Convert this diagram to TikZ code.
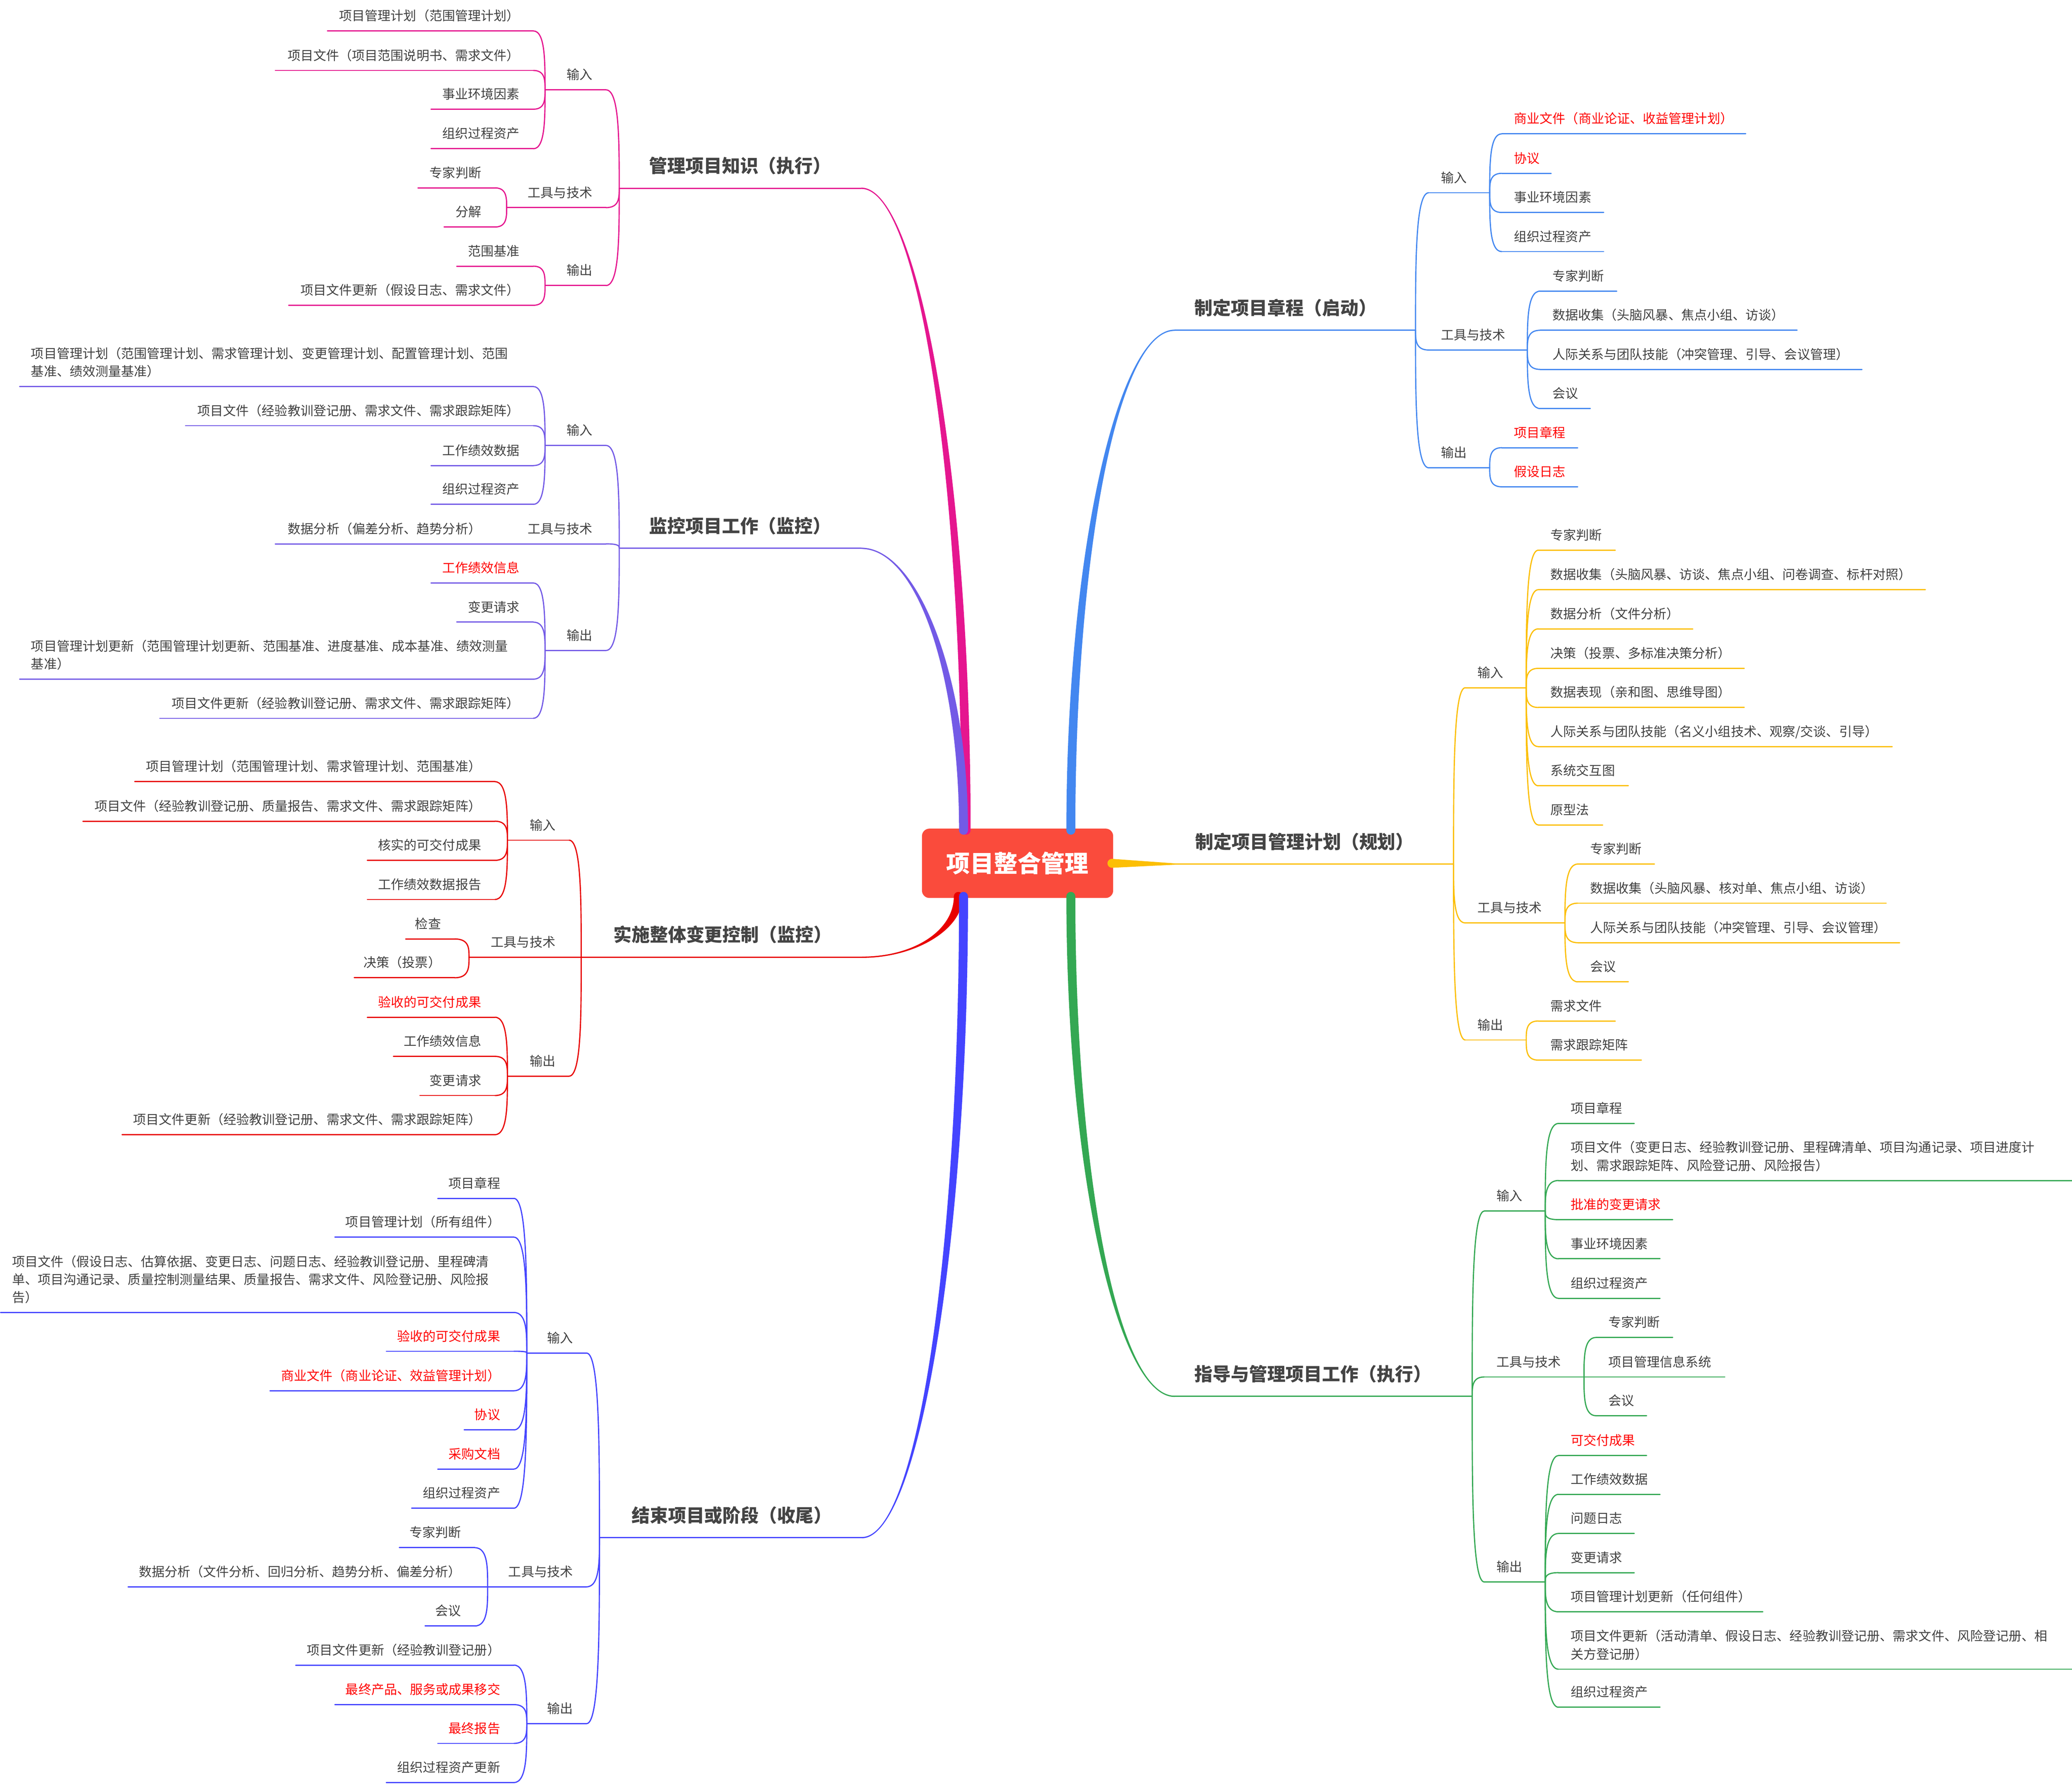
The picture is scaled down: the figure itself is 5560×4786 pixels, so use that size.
\documentclass[tikz,border=0pt]{standalone}
\usepackage{fontspec}
\setmainfont{Noto Sans CJK SC}
\usetikzlibrary{calc}
\newlength\mmunit \setlength\mmunit{0.1mm}
\definecolor{cA}{HTML}{E5168F}
\definecolor{cB}{HTML}{735AE6}
\definecolor{cC}{HTML}{E80000}
\definecolor{cD}{HTML}{4444FF}
\definecolor{cE}{HTML}{4387F0}
\definecolor{cF}{HTML}{FCBF05}
\definecolor{cG}{HTML}{34A853}
\definecolor{rootc}{HTML}{FA4B3C}
\definecolor{txt}{HTML}{404040}
\definecolor{txtb}{HTML}{444444}
\definecolor{hired}{HTML}{FF0000}
\newcommand\redtxt[1]{\textcolor{hired}{#1}}
\tikzset{
  leaf/.style={inner xsep=0pt, inner ysep=2.7mm, text depth=0pt, font=\fontsize{9.84pt}{13.66pt}\selectfont, text=txt},
  mainlbl/.style={inner xsep=0pt, inner ysep=4.1mm, text depth=0pt, font=\fontsize{13.9pt}{16pt}\selectfont\bfseries, text=txtb},
  mmline/.style={line width=0.32mm, line cap=round},
  rootbox/.style={fill=rootc, rounded corners=2mm, minimum width=51.3mm, minimum height=18.6mm, inner sep=0pt, text=white, font=\fontsize{18.1pt}{20pt}\selectfont\bfseries}
}
% left-side leaf: anchor south east
\newcommand\lfL[6]{\node[leaf,anchor=south east] (#1) at (#3,#4) {\makebox[#5\mmunit][r]{#6\hspace{36\mmunit}}};
  \draw[mmline,#2] (#1.south west) -- (#1.south east);}
\newcommand\lfLm[6]{\node[leaf,anchor=south east] (#1) at (#3,#4) {\makebox[#5\mmunit][l]{\hspace{30\mmunit}\begin{tabular}[b]{@{}l@{}}#6\end{tabular}}};
  \draw[mmline,#2] (#1.south west) -- (#1.south east);}
\newcommand\lfR[6]{\node[leaf,anchor=south west] (#1) at (#3,#4) {\makebox[#5\mmunit][l]{\hspace{32\mmunit}#6}};
  \draw[mmline,#2] (#1.south west) -- (#1.south east);}
\newcommand\lfRm[6]{\node[leaf,anchor=south west] (#1) at (#3,#4) {\makebox[#5\mmunit][l]{\hspace{32\mmunit}\begin{tabular}[b]{@{}l@{}}#6\end{tabular}}};
  \draw[mmline,#2] (#1.south west) -- (#1.south east);}
\newcommand\mnL[6]{\node[mainlbl,anchor=south east] (#1) at (#3,#4) {\makebox[#5\mmunit][r]{#6\hspace{80\mmunit}}};
  \draw[mmline,#2] (#1.south west) -- (#1.south east);}
\newcommand\mnR[6]{\node[mainlbl,anchor=south west] (#1) at (#3,#4) {\makebox[#5\mmunit][l]{\hspace{53\mmunit}#6}};
  \draw[mmline,#2] (#1.south west) -- (#1.south east);}
% bracket link from child end to parent junction
\newcommand\lk[3]{\draw[mmline,#1] let \p1=(#2), \p2=(#3) in (\p1) .. controls (\x2,\y1) and (\x2,{0.5*(\y1+\y2)}) .. (\p2);}
% tapered main branch: color, centre point, branch point, s, t
\newcommand\tp[5]{%
  \fill[#1] let \p1=(#2), \p2=(#3) in
   ({\x1+(#4)*1.2mm},\y1) .. controls ({\x1+(#4)*1.2mm},{\y1+0.55*(\y2-\y1)}) and ({\x2+0.55*(\x1-\x2)},{\y2+(#5)*0.17mm}) .. (\x2,{\y2+(#5)*0.17mm})
   -- (\x2,{\y2-(#5)*0.17mm}) .. controls ({\x2+0.55*(\x1-\x2)},{\y2-(#5)*0.17mm}) and ({\x1-(#4)*1.2mm},{\y1+0.55*(\y2-\y1)}) .. ({\x1-(#4)*1.2mm},\y1) -- cycle;
  \fill[#1] (#2) circle[radius=1.2mm];}
\begin{document}
\begin{tikzpicture}[x=0.1mm,y=-0.1mm]
\useasboundingbox (0,0) rectangle (5560,4786);
\node[rootbox] (root) at (2730.5,2316) {项目整合管理};
\coordinate (aA) at ($(root.north)+(-138,5)$);
\coordinate (aB) at ($(root.north)+(-145,5)$);
\coordinate (aE) at ($(root.north)+(143,5)$);
\coordinate (aC) at ($(root.south)+(-159,-5)$);
\coordinate (aD) at ($(root.south)+(-145,-5)$);
\coordinate (aG) at ($(root.south)+(143,-5)$);
\coordinate (aF) at ($(root.east)+(-4,0)$);
% main branch labels
\mnL{mA}{cA}{2311}{505}{648}{管理项目知识（执行）}
\mnL{mB}{cB}{2311}{1471}{648}{监控项目工作（监控）}
\mnL{mC}{cC}{2313}{2568}{752}{实施整体变更控制（监控）}
\mnL{mD}{cD}{2313}{4125}{703}{结束项目或阶段（收尾）}
\mnR{mE}{cE}{3152}{886}{645}{制定项目章程（启动）}
\mnR{mF}{cF}{3154}{2318}{745}{制定项目管理计划（规划）}
\mnR{mG}{cG}{3152}{3746}{797}{指导与管理项目工作（执行）}
% tapered branches
\tp{cA}{aA}{mA.south east}{1}{1}
\tp{cB}{aB}{mB.south east}{1}{1}
\tp{cE}{aE}{mE.south west}{-1}{1}
\tp{cC}{aC}{mC.south east}{1}{-1}
\tp{cD}{aD}{mD.south east}{1}{-1}
\tp{cG}{aG}{mG.south west}{-1}{-1}
\fill[cF] let \p1=(aF), \p2=(mF.south west) in (\x1,{\y1+1.2mm}) -- (\x2,{\y2+0.17mm}) -- (\x2,{\y2-0.17mm}) -- (\x1,{\y1-1.2mm}) -- cycle;
\fill[cF] (aF) circle[radius=1.2mm];
% ---------- A ----------
\lfL{inA}{cA}{1626}{241}{162}{输入}
\lfL{A1}{cA}{1431}{83}{551}{项目管理计划（范围管理计划）}
\lfL{A2}{cA}{1431}{189}{691}{项目文件（项目范围说明书、需求文件）}
\lfL{A3}{cA}{1431}{293}{273}{事业环境因素}
\lfL{A4}{cA}{1431}{399}{273}{组织过程资产}
\lfL{tlA}{cA}{1626}{557}{265}{工具与技术}
\lfL{A5}{cA}{1328}{504}{205}{专家判断}
\lfL{A6}{cA}{1328}{609}{135}{分解}
\lfL{outA}{cA}{1626}{766}{162}{输出}
\lfL{A7}{cA}{1431}{714}{204}{范围基准}
\lfL{A8}{cA}{1431}{819}{655}{项目文件更新（假设日志、需求文件）}
\foreach \c in {A1,A2,A3,A4} {\lk{cA}{\c.south east}{inA.south west}}
\foreach \c in {A5,A6} {\lk{cA}{\c.south east}{tlA.south west}}
\foreach \c in {A7,A8} {\lk{cA}{\c.south east}{outA.south west}}
\foreach \c in {inA,tlA,outA} {\lk{cA}{\c.south east}{mA.south west}}
% ---------- B ----------
\lfL{inB}{cB}{1626}{1195}{162}{输入}
\lfLm{B1}{cB}{1431}{1037}{1377}{项目管理计划（范围管理计划、需求管理计划、变更管理计划、配置管理计划、范围\\基准、绩效测量基准）}
\lfL{B2}{cB}{1431}{1142}{932}{项目文件（经验教训登记册、需求文件、需求跟踪矩阵）}
\lfL{B3}{cB}{1431}{1249}{273}{工作绩效数据}
\lfL{B4}{cB}{1431}{1353}{273}{组织过程资产}
\lfL{tlB}{cB}{1626}{1459}{265}{工具与技术}
\lfL{B5}{cB}{1328}{1459}{588}{数据分析（偏差分析、趋势分析）}
\lfL{outB}{cB}{1626}{1745}{162}{输出}
\lfL{B6}{cB}{1431}{1564}{273}{\redtxt{工作绩效信息}}
\lfL{B7}{cB}{1431}{1669}{204}{变更请求}
\lfLm{B8}{cB}{1431}{1822}{1377}{项目管理计划更新（范围管理计划更新、范围基准、进度基准、成本基准、绩效测量\\基准）}
\lfL{B9}{cB}{1431}{1927}{1001}{项目文件更新（经验教训登记册、需求文件、需求跟踪矩阵）}
\foreach \c in {B1,B2,B3,B4} {\lk{cB}{\c.south east}{inB.south west}}
\lk{cB}{B5.south east}{tlB.south west}
\foreach \c in {B6,B7,B8,B9} {\lk{cB}{\c.south east}{outB.south west}}
\foreach \c in {inB,tlB,outB} {\lk{cB}{\c.south east}{mB.south west}}
% ---------- C ----------
\lfL{inC}{cC}{1527}{2254}{164}{输入}
\lfL{C1}{cC}{1328}{2097}{965}{项目管理计划（范围管理计划、需求管理计划、范围基准）}
\lfL{C2}{cC}{1328}{2203}{1104}{项目文件（经验教训登记册、质量报告、需求文件、需求跟踪矩阵）}
\lfL{C3}{cC}{1328}{2308}{341}{核实的可交付成果}
\lfL{C4}{cC}{1328}{2413}{341}{工作绩效数据报告}
\lfL{tlC}{cC}{1527}{2568}{267}{工具与技术}
\lfL{C5}{cC}{1220}{2519}{130}{检查}
\lfL{C6}{cC}{1220}{2623}{268}{决策（投票）}
\lfL{outC}{cC}{1527}{2887}{164}{输出}
\lfL{C7}{cC}{1328}{2729}{341}{\redtxt{验收的可交付成果}}
\lfL{C8}{cC}{1328}{2834}{271}{工作绩效信息}
\lfL{C9}{cC}{1328}{2939}{200}{变更请求}
\lfL{C10}{cC}{1328}{3044}{999}{项目文件更新（经验教训登记册、需求文件、需求跟踪矩阵）}
\foreach \c in {C1,C2,C3,C4} {\lk{cC}{\c.south east}{inC.south west}}
\foreach \c in {C5,C6} {\lk{cC}{\c.south east}{tlC.south west}}
\foreach \c in {C7,C8,C9,C10} {\lk{cC}{\c.south east}{outC.south west}}
\foreach \c in {inC,tlC,outC} {\lk{cC}{\c.south east}{mC.south west}}
% ---------- D ----------
\lfL{inD}{cD}{1574}{3630}{159}{输入}
\lfL{D1}{cD}{1379}{3215}{203}{项目章程}
\lfL{D2}{cD}{1379}{3319}{479}{项目管理计划（所有组件）}
\lfLm{D3}{cD}{1379}{3521}{1376}{项目文件（假设日志、估算依据、变更日志、问题日志、经验教训登记册、里程碑清\\单、项目沟通记录、质量控制测量结果、质量报告、需求文件、风险登记册、风险报\\告）}
\lfL{D4}{cD}{1379}{3625}{341}{\redtxt{验收的可交付成果}}
\lfL{D5}{cD}{1379}{3731}{653}{\redtxt{商业文件（商业论证、效益管理计划）}}
\lfL{D6}{cD}{1379}{3836}{132}{\redtxt{协议}}
\lfL{D7}{cD}{1379}{3941}{203}{\redtxt{采购文档}}
\lfL{D8}{cD}{1379}{4046}{273}{组织过程资产}
\lfL{tlD}{cD}{1574}{4257}{264}{工具与技术}
\lfL{D9}{cD}{1274}{4152}{201}{专家判断}
\lfL{D10}{cD}{1274}{4257}{929}{数据分析（文件分析、回归分析、趋势分析、偏差分析）}
\lfL{D11}{cD}{1274}{4362}{132}{会议}
\lfL{outD}{cD}{1574}{4624}{159}{输出}
\lfL{D12}{cD}{1379}{4467}{584}{项目文件更新（经验教训登记册）}
\lfL{D13}{cD}{1379}{4573}{479}{\redtxt{最终产品、服务或成果移交}}
\lfL{D14}{cD}{1379}{4677}{203}{\redtxt{最终报告}}
\lfL{D15}{cD}{1379}{4782}{341}{组织过程资产更新}
\foreach \c in {D1,D2,D3,D4,D5,D6,D7,D8} {\lk{cD}{\c.south east}{inD.south west}}
\foreach \c in {D9,D10,D11} {\lk{cD}{\c.south east}{tlD.south west}}
\foreach \c in {D12,D13,D14,D15} {\lk{cD}{\c.south east}{outD.south west}}
\foreach \c in {inD,tlD,outD} {\lk{cD}{\c.south east}{mD.south west}}
% ---------- E ----------
\lfR{inE}{cE}{3834}{517}{162}{输入}
\lfR{E1}{cE}{4030}{359}{653}{\redtxt{商业文件（商业论证、收益管理计划）}}
\lfR{E2}{cE}{4030}{465}{131}{\redtxt{协议}}
\lfR{E3}{cE}{4030}{570}{272}{事业环境因素}
\lfR{E4}{cE}{4030}{675}{272}{组织过程资产}
\lfR{tlE}{cE}{3834}{939}{263}{工具与技术}
\lfR{E5}{cE}{4133}{781}{204}{专家判断}
\lfR{E6}{cE}{4133}{886}{688}{数据收集（头脑风暴、焦点小组、访谈）}
\lfR{E7}{cE}{4133}{991}{862}{人际关系与团队技能（冲突管理、引导、会议管理）}
\lfR{E8}{cE}{4133}{1096}{133}{会议}
\lfR{outE}{cE}{3834}{1255}{162}{输出}
\lfR{E9}{cE}{4030}{1201}{202}{\redtxt{项目章程}}
\lfR{E10}{cE}{4030}{1306}{202}{\redtxt{假设日志}}
\foreach \c in {E1,E2,E3,E4} {\lk{cE}{\c.south west}{inE.south east}}
\foreach \c in {E5,E6,E7,E8} {\lk{cE}{\c.south west}{tlE.south east}}
\foreach \c in {E9,E10} {\lk{cE}{\c.south west}{outE.south east}}
\foreach \c in {inE,tlE,outE} {\lk{cE}{\c.south west}{mE.south east}}
% ---------- F ----------
\lfR{inF}{cF}{3932}{1845}{162}{输入}
\lfR{F1}{cF}{4128}{1476}{205}{专家判断}
\lfR{F2}{cF}{4128}{1582}{1037}{数据收集（头脑风暴、访谈、焦点小组、问卷调查、标杆对照）}
\lfR{F3}{cF}{4128}{1687}{413}{数据分析（文件分析）}
\lfR{F4}{cF}{4128}{1793}{551}{决策（投票、多标准决策分析）}
\lfR{F5}{cF}{4128}{1898}{551}{数据表现（亲和图、思维导图）}
\lfR{F6}{cF}{4128}{2003}{948}{人际关系与团队技能（名义小组技术、观察/交谈、引导）}
\lfR{F7}{cF}{4128}{2108}{240}{系统交互图}
\lfR{F8}{cF}{4128}{2213}{171}{原型法}
\lfR{tlF}{cF}{3932}{2476}{266}{工具与技术}
\lfR{F9}{cF}{4234}{2318}{204}{专家判断}
\lfR{F10}{cF}{4234}{2423}{826}{数据收集（头脑风暴、核对单、焦点小组、访谈）}
\lfR{F11}{cF}{4234}{2529}{862}{人际关系与团队技能（冲突管理、引导、会议管理）}
\lfR{F12}{cF}{4234}{2634}{134}{会议}
\lfR{outF}{cF}{3932}{2790}{162}{输出}
\lfR{F13}{cF}{4128}{2739}{205}{需求文件}
\lfR{F14}{cF}{4128}{2844}{275}{需求跟踪矩阵}
\foreach \c in {F1,F2,F3,F4,F5,F6,F7,F8} {\lk{cF}{\c.south west}{inF.south east}}
\foreach \c in {F9,F10,F11,F12} {\lk{cF}{\c.south west}{tlF.south east}}
\foreach \c in {F13,F14} {\lk{cF}{\c.south west}{outF.south east}}
\foreach \c in {inF,tlF,outF} {\lk{cF}{\c.south west}{mF.south east}}
% ---------- G ----------
\lfR{inG}{cG}{3983}{3249}{162}{输入}
\lfR{G1}{cG}{4182}{3014}{202}{项目章程}
\lfRm{G2}{cG}{4182}{3167}{1376}{项目文件（变更日志、经验教训登记册、里程碑清单、项目沟通记录、项目进度计\\划、需求跟踪矩阵、风险登记册、风险报告）}
\lfR{G3}{cG}{4182}{3272}{305}{\redtxt{批准的变更请求}}
\lfR{G4}{cG}{4182}{3377}{271}{事业环境因素}
\lfR{G5}{cG}{4182}{3483}{271}{组织过程资产}
\lfR{tlG}{cG}{3983}{3694}{266}{工具与技术}
\lfR{G6}{cG}{4283}{3588}{204}{专家判断}
\lfR{G7}{cG}{4283}{3694}{344}{项目管理信息系统}
\lfR{G8}{cG}{4283}{3798}{134}{会议}
\lfR{outG}{cG}{3983}{4244}{162}{输出}
\lfR{G9}{cG}{4182}{3905}{235}{\redtxt{可交付成果}}
\lfR{G10}{cG}{4182}{4009}{271}{工作绩效数据}
\lfR{G11}{cG}{4182}{4114}{202}{问题日志}
\lfR{G12}{cG}{4182}{4219}{202}{变更请求}
\lfR{G13}{cG}{4182}{4324}{547}{项目管理计划更新（任何组件）}
\lfRm{G14}{cG}{4182}{4478}{1376}{项目文件更新（活动清单、假设日志、经验教训登记册、需求文件、风险登记册、相\\关方登记册）}
\lfR{G15}{cG}{4182}{4580}{271}{组织过程资产}
\foreach \c in {G1,G2,G3,G4,G5} {\lk{cG}{\c.south west}{inG.south east}}
\foreach \c in {G6,G7,G8} {\lk{cG}{\c.south west}{tlG.south east}}
\foreach \c in {G9,G10,G11,G12,G13,G14,G15} {\lk{cG}{\c.south west}{outG.south east}}
\foreach \c in {inG,tlG,outG} {\lk{cG}{\c.south west}{mG.south east}}
\end{tikzpicture}
\end{document}
